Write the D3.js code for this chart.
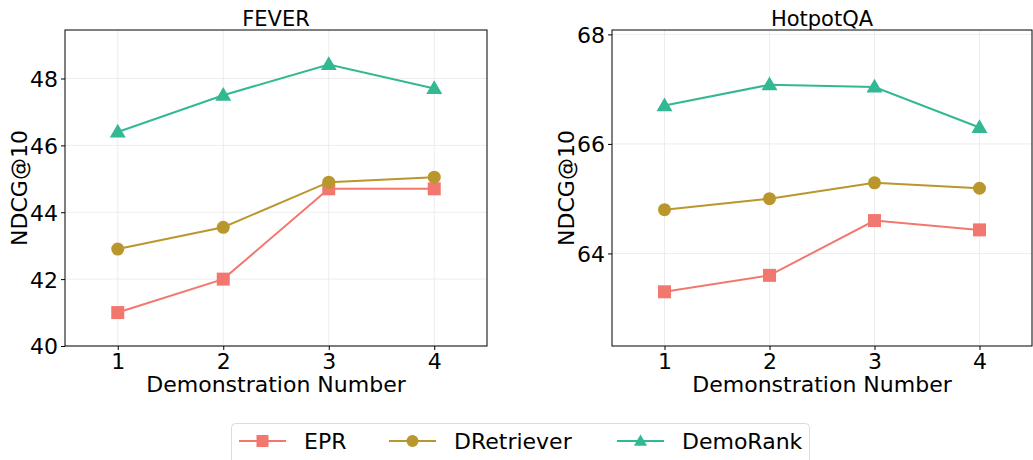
<!DOCTYPE html>
<html>
<head>
<meta charset="utf-8">
<script src="https://cdn.jsdelivr.net/npm/d3@7"></script>
<style>
  body { margin: 0; background: #fff; }
  svg { font-family: "DejaVu Sans", sans-serif; }
  .grid line { stroke: #e8e8e8; stroke-width: 0.8; }
  .tick text { font-size: 22px; fill: #000; }
</style>
</head>
<body>
<svg width="1033" height="460"></svg>
<script>
const demoNumbers = [1, 2, 3, 4];
const seriesNames = ["EPR", "DRetriever", "DemoRank"];
const seriesColors = ["#f2786f", "#ba972c", "#33b894"];
const seriesShapes = ["square", "circle", "triangle"];

const feverEPR = [41.0, 42.0, 44.7, 44.7];
const feverDRetriever = [42.9, 43.55, 44.9, 45.05];
const feverDemoRank = [46.4, 47.5, 48.42, 47.7];

const hotpotEPR = [63.3, 63.6, 64.6, 64.43];
const hotpotDRetriever = [64.8, 65.0, 65.29, 65.19];
const hotpotDemoRank = [66.7, 67.08, 67.04, 66.3];

const feverTicks = [40, 42, 44, 46, 48];
const hotpotTicks = [64, 66, 68];

const panels = [
  { title: "FEVER", series: [feverEPR, feverDRetriever, feverDemoRank],
    yDomain: [40, 49.45], ticks: feverTicks, left: 65, right: 487 },
  { title: "HotpotQA", series: [hotpotEPR, hotpotDRetriever, hotpotDemoRank],
    yDomain: [62.31, 68.08], ticks: hotpotTicks, left: 612, right: 1032 }
];

const svg = d3.select("svg");
const plotTop = 30, plotBottom = 346;

function symbolFor(shape, small) {
  if (shape === "square") return d3.symbol(d3.symbolSquare, small ? 144 : 169);
  if (shape === "circle") return d3.symbol(d3.symbolCircle, small ? 113 : 133);
  return d3.symbol(d3.symbolTriangle, small ? 75 : 110);
}

panels.forEach((p) => {
  const x = d3.scaleLinear().domain([0.5, 4.5]).range([p.left, p.right]);
  const y = d3.scaleLinear().domain(p.yDomain).range([plotBottom, plotTop]);
  const g = svg.append("g");

  // grid
  const grid = g.append("g").attr("class", "grid");
  grid.selectAll(".gy").data(p.ticks).enter().append("line")
    .attr("x1", p.left).attr("x2", p.right)
    .attr("y1", (d) => y(d)).attr("y2", (d) => y(d));
  grid.selectAll(".gx").data(demoNumbers).enter().append("line")
    .attr("x1", (d) => x(d)).attr("x2", (d) => x(d))
    .attr("y1", plotTop).attr("y2", plotBottom);

  // axes
  const xAxis = g.append("g").attr("transform", `translate(0,${plotBottom})`)
    .call(d3.axisBottom(x).tickValues(demoNumbers).tickFormat(d3.format("d"))
      .tickSize(4).tickPadding(3));
  const yAxis = g.append("g").attr("transform", `translate(${p.left},0)`)
    .call(d3.axisLeft(y).tickValues(p.ticks).tickFormat(d3.format("d"))
      .tickSize(4).tickPadding(3));
  [xAxis, yAxis].forEach((a) => {
    a.select(".domain").remove();
    a.selectAll(".tick line").attr("stroke", "#000");
    a.selectAll(".tick text").style("font-family", "DejaVu Sans");
  });
  yAxis.selectAll(".tick text").attr("dy", "0.36em");

  // frame
  g.append("rect").attr("x", p.left).attr("y", plotTop)
    .attr("width", p.right - p.left).attr("height", plotBottom - plotTop)
    .attr("fill", "none").attr("stroke", "#000").attr("stroke-width", 1);

  // lines and markers
  p.series.forEach((vals, i) => {
    const line = d3.line().x((d, j) => x(demoNumbers[j])).y((d) => y(d));
    g.append("path").datum(vals).attr("d", line)
      .attr("fill", "none").attr("stroke", seriesColors[i]).attr("stroke-width", 2);
    g.selectAll(null).data(vals).enter().append("path")
      .attr("d", symbolFor(seriesShapes[i], false))
      .attr("transform", (d, j) => `translate(${x(demoNumbers[j])},${y(d) + (seriesShapes[i] === "triangle" ? 1 : 0)})`)
      .attr("fill", seriesColors[i]);
  });

  // labels
  g.append("text").attr("x", (p.left + p.right) / 2).attr("y", 26)
    .attr("text-anchor", "middle").style("font-size", "21px").text(p.title);
  g.append("text").attr("x", (p.left + p.right) / 2).attr("y", 392)
    .attr("text-anchor", "middle").style("font-size", "22px").text("Demonstration Number");
  g.append("text")
    .attr("transform", `translate(${p.left - 38},${(plotTop + plotBottom) / 2}) rotate(-90)`)
    .attr("text-anchor", "middle").style("font-size", "22px").text("NDCG@10");
});

// legend
const legend = svg.append("g");
legend.append("rect").attr("x", 231.5).attr("y", 423.5).attr("width", 578).attr("height", 50)
  .attr("rx", 4).attr("fill", "#fff").attr("stroke", "#dcdcdc");
const legendX = [239, 389, 617];
seriesNames.forEach((name, i) => {
  const lg = legend.append("g").attr("transform", `translate(${legendX[i]},441)`);
  lg.append("line").attr("x1", 0).attr("x2", 47)
    .attr("stroke", seriesColors[i]).attr("stroke-width", 2);
  lg.append("path").attr("d", symbolFor(seriesShapes[i], true))
    .attr("transform", `translate(23.5,${seriesShapes[i] === "triangle" ? 1 : 0})`)
    .attr("fill", seriesColors[i]);
  lg.append("text").attr("x", 65).attr("y", 8).style("font-size", "22px").text(name);
});
</script>
</body>
</html>
